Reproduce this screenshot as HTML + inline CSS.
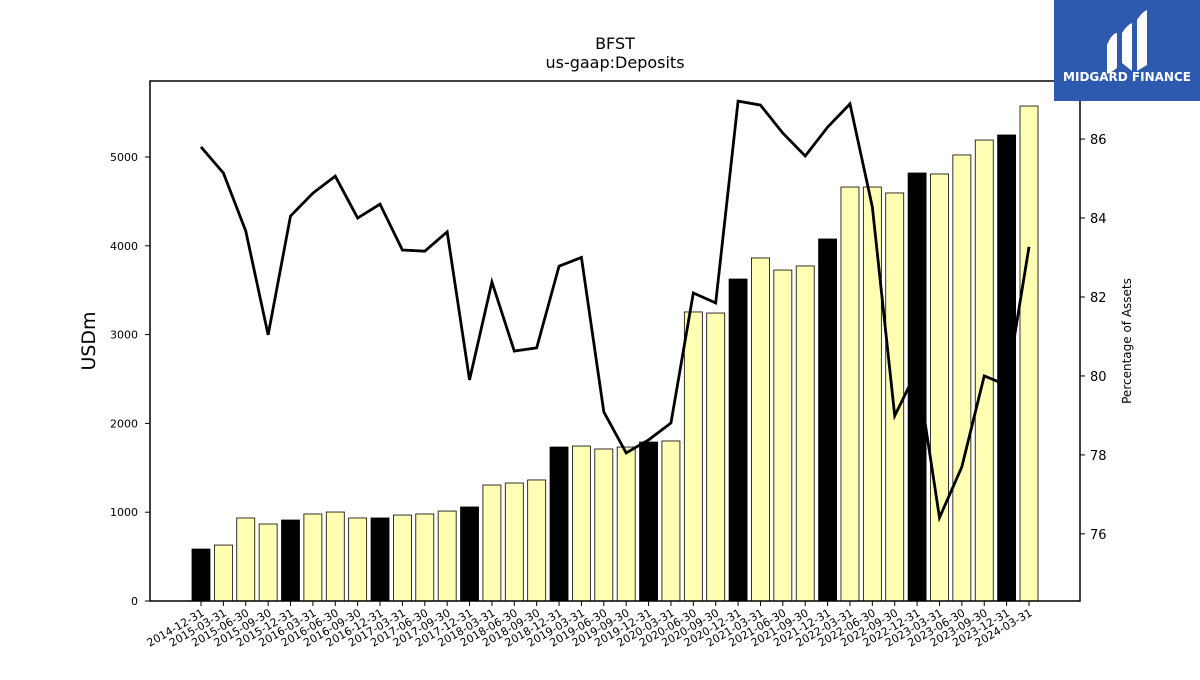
<!DOCTYPE html>
<html><head><meta charset="utf-8"><style>
body{margin:0;background:#fff;font-family:"Liberation Sans","DejaVu Sans",sans-serif}
</style></head><body>
<svg id="chart" width="1200" height="675" xmlns="http://www.w3.org/2000/svg" font-family="DejaVu Sans, Liberation Sans, sans-serif">
<rect width="1200" height="675" fill="#fff"/>
<text x="615" y="49" text-anchor="middle" font-size="16">BFST</text>
<text x="615" y="68" text-anchor="middle" font-size="16">us-gaap:Deposits</text>
<text transform="translate(95,341) rotate(-90)" text-anchor="middle" font-size="19">USDm</text>
<text transform="translate(1131,341) rotate(-90)" text-anchor="middle" font-size="12">Percentage of Assets</text>
<g id="bars"></g><g id="line"></g><g id="axes"></g>
<g>
<rect x="1054" y="0" width="146" height="101" fill="#2d5aae"/>
<path d="M1107 45 q5-12 10-12 v35 q-5 4-10 6z M1122 33 q5-8 10-10 v48 l-10-8z M1137 20 q5-8 10-10 v55 l-10 6z" fill="#fff"/>
<text x="1127" y="81" text-anchor="middle" font-size="12" font-weight="bold" fill="#fff">MIDGARD FINANCE</text>
</g>
</svg>
<script>
const categories=["2014-12-31","2015-03-31","2015-06-30","2015-09-30","2015-12-31","2016-03-31","2016-06-30","2016-09-30","2016-12-31","2017-03-31","2017-06-30","2017-09-30","2017-12-31","2018-03-31","2018-06-30","2018-09-30","2018-12-31","2019-03-31","2019-06-30","2019-09-30","2019-12-31","2020-03-31","2020-06-30","2020-09-30","2020-12-31","2021-03-31","2021-06-30","2021-09-30","2021-12-31","2022-03-31","2022-06-30","2022-09-30","2022-12-31","2023-03-31","2023-06-30","2023-09-30","2023-12-31","2024-03-31"];
const deposits=[585,630,935,867,912,980,1002,935,935,968,980,1013,1059,1306,1329,1363,1734,1745,1712,1734,1790,1802,3255,3243,3626,3863,3727,3773,4077,4662,4662,4595,4820,4809,5023,5191,5248,5574];
const pctAssets=[85.8,85.14,83.67,81.04,84.05,84.63,85.06,84.0,84.35,83.19,83.16,83.65,79.9,82.38,80.63,80.71,82.78,83.0,79.09,78.05,78.38,78.81,82.1,81.85,86.96,86.86,86.15,85.57,86.3,86.89,84.28,78.99,80.15,76.41,77.7,80.0,79.77,83.27];
const leftTicks=[0,1000,2000,3000,4000,5000];
const rightTicks=[76,78,80,82,84,86];
const NS="http://www.w3.org/2000/svg";
const L=150,R=1080,T=81,B=601;
const x0=201,step=(1029-201)/37;
const xs=i=>x0+i*step;
const yL=v=>B-(v/5856)*(B-T);
const yR=v=>B-(v-74.3)/(87.47-74.3)*(B-T);
function mk(tag,attrs,parent){const e=document.createElementNS(NS,tag);for(const k in attrs)e.setAttribute(k,attrs[k]);parent.appendChild(e);return e;}
const gb=document.getElementById('bars'),gl=document.getElementById('line'),ga=document.getElementById('axes');
deposits.forEach((v,i)=>{
 const q4=categories[i].endsWith("12-31");
 const r=mk('rect',{x:xs(i)-9,y:yL(v),width:18,height:B-yL(v),fill:q4?'#000':'#ffffb3',stroke:'#000','stroke-width':0.8},gb);
 
 
});
const p=mk('polyline',{points:pctAssets.map((v,i)=>xs(i)+','+yR(v)).join(' '),fill:'none',stroke:'#000','stroke-width':2.8},gl);


const fr=mk('rect',{x:L,y:T,width:R-L,height:B-T,fill:'none',stroke:'#000','stroke-width':1.5},ga);


leftTicks.forEach(v=>{const y=yL(v);mk('line',{x1:L-5,x2:L,y1:y,y2:y,stroke:'#000'},ga);
 const t=mk('text',{x:L-12,y:y+4,'text-anchor':'end','font-size':11},ga);t.textContent=v;
 
 });
rightTicks.forEach(v=>{const y=yR(v);mk('line',{x1:R,x2:R+5,y1:y,y2:y,stroke:'#000'},ga);
 const t=mk('text',{x:R+10,y:y+5,'font-size':13},ga);t.textContent=v;
 
 });
categories.forEach((c,i)=>{const x=xs(i);mk('line',{x1:x,x2:x,y1:B,y2:B+5,stroke:'#000'},ga);
 const t=mk('text',{transform:`translate(${x+4},${B+14}) rotate(-30)`,'text-anchor':'end','font-size':11},ga);t.textContent=c;
 
 });
</script>
</body></html>
